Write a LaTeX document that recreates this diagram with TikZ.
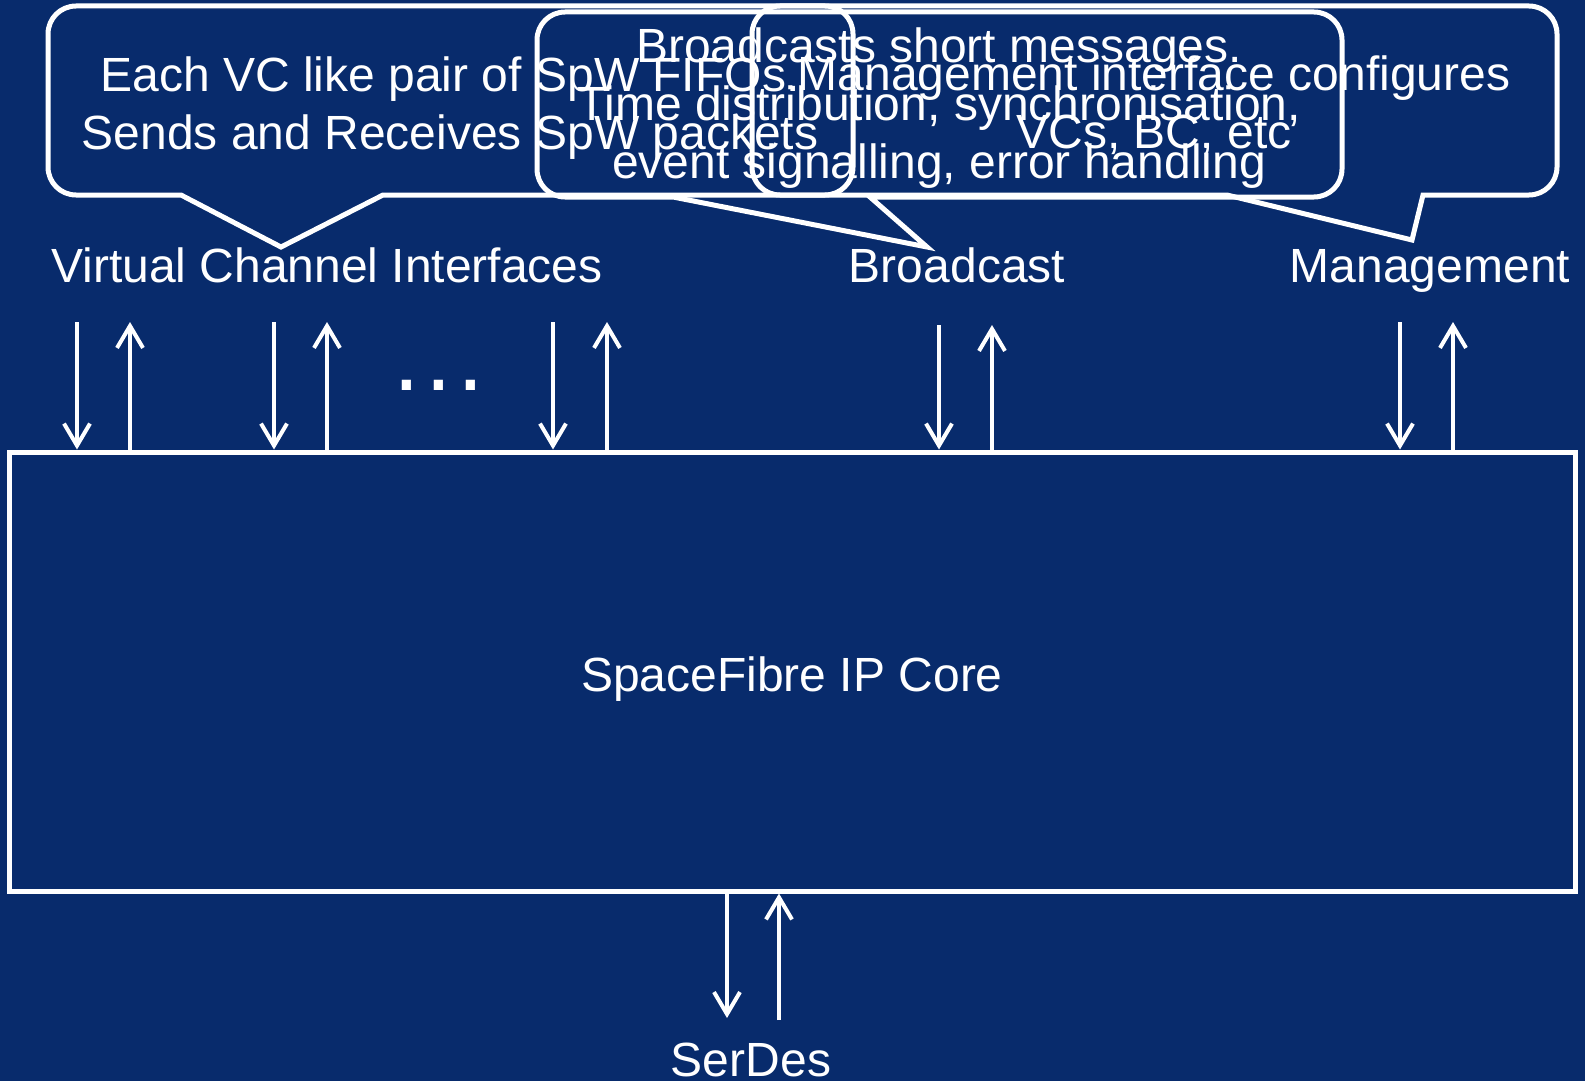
\documentclass[tikz,border=0pt]{standalone}
\usepackage{fontspec}
\setmainfont{Liberation Sans}
\usetikzlibrary{arrows.meta}
\definecolor{navy}{HTML}{082B6C}

% Rounded box with a wedge pointer on its bottom edge.
% #1 left, #2 top, #3 right, #4 bottom, #5/#6 wedge base, #7/#8 wedge tip, #9 style
\newcommand\wedgecallout[9]{%
  \draw[#9] ({#1+28},#2) -- ({#3-28},#2)
    .. controls ({#3-12.5},#2) and (#3,{#2+12.5}) .. (#3,{#2+28})
    -- (#3,{#4-28})
    .. controls (#3,{#4-12.5}) and ({#3-12.5},#4) .. ({#3-28},#4)
    -- (#6,#4) -- (#7,#8) -- (#5,#4)
    -- ({#1+28},#4)
    .. controls ({#1+12.5},#4) and (#1,{#4-12.5}) .. (#1,{#4-28})
    -- (#1,{#2+28})
    .. controls (#1,{#2+12.5}) and ({#1+12.5},#2) .. ({#1+28},#2) -- cycle;}

\begin{document}
\begin{tikzpicture}[x=1pt,y=-1pt,
  txt/.style={text=white, inner sep=0pt, font=\fontsize{48}{58}\selectfont},
  lbl/.style={txt, anchor=base},
  note/.style={txt, anchor=base, align=center},
  bubble/.style={draw=white, line width=5pt, line join=miter},
  flow/.style={draw=white, line width=4pt,
    -{Straight Barb[length=22pt,width=26pt]}},
  core/.style={draw=white, line width=5pt, txt, text height=40pt, text depth=0pt}]

% canvas
\useasboundingbox (0,0) rectangle (1585,1081);
\fill[navy] (0,0) rectangle (1585,1081);

% callout outlines
\wedgecallout{48}{6}{853}{195}{181}{383}{281}{247}{bubble}
\wedgecallout{752}{6}{1557}{195}{1227}{1423}{1412}{240}{bubble}
\wedgecallout{537}{12}{1342}{197}{673}{870}{927}{247}{bubble}

% callout texts (placed by the baseline of their last line)
\node[note] (vcnote) at (450,149) {Each VC like pair of SpW FIFOs.\\Sends and Receives SpW packets};
\node[note] (bcnote) at (939,178) {Broadcasts short messages.\\Time distribution, synchronisation,\\event signalling, error handling};
\node[note] (mgnote) at (1154,148) {Management interface configures\\VCs, BC, etc};

% interface labels
\node[lbl] (vclabel) at (327,282) {Virtual Channel Interfaces};
\node[lbl] (bclabel) at (957,282) {Broadcast};
\node[lbl] (mglabel) at (1430,282) {Management};
\node[lbl] (dots) at (439,390) {\fontsize{96}{96}\selectfont .\kern5pt.\kern5pt.};

% the core block
\node[core, minimum width=1566pt, minimum height=439pt] (core) at (792,671.5) {SpaceFibre IP Core};

% upper ends of the interface arrows
\coordinate (vcaout) at (77,322);
\coordinate (vcain)  at (130,322);
\coordinate (vcbout) at (274,322);
\coordinate (vcbin)  at (327,322);
\coordinate (vcnout) at (553,322);
\coordinate (vcnin)  at (607,322);
\coordinate (bcout)  at (939,325);
\coordinate (bcin)   at (992,325);
\coordinate (mgout)  at (1400,322);
\coordinate (mgin)   at (1453,322);

\foreach \c in {vcaout,vcbout,vcnout,bcout,mgout}
  \draw[flow] (\c) -- (\c |- core.north);
\foreach \c in {vcain,vcbin,vcnin,bcin,mgin}
  \draw[flow] (\c |- core.north) -- (\c);

% serial link
\coordinate (sdout) at (727,1018);
\coordinate (sdin)  at (779,1020);
\draw[flow] (sdout |- core.south) -- (sdout);
\draw[flow] (sdin) -- (sdin |- core.south);
\node[lbl] (serdes) at (751,1076) {SerDes};
\end{tikzpicture}
\end{document}
